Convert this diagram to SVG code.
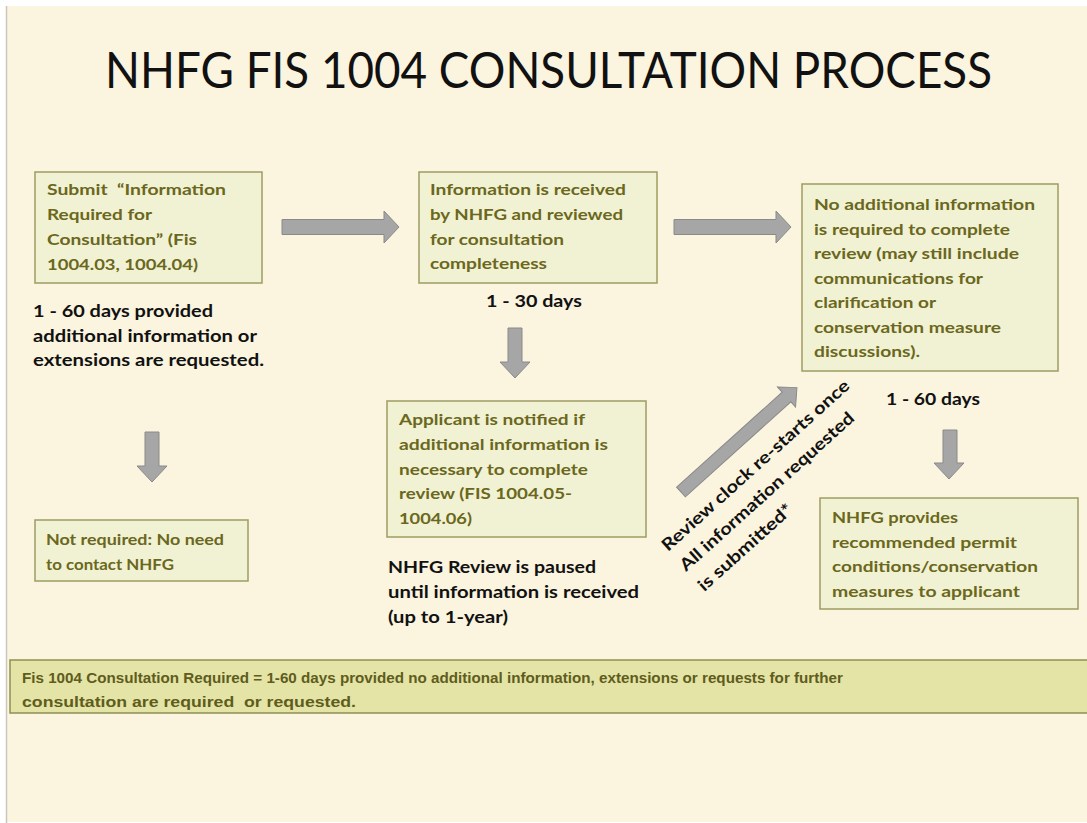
<svg xmlns="http://www.w3.org/2000/svg" width="1087" height="823" viewBox="0 0 1087 823">
  <style>
    text { white-space: pre; }
    .bg { fill: #fbf4df; }
    .box { fill: #f1f2d4; stroke: #9d9c63; stroke-width: 1.5; }
    .band { fill: #e3e4a6; stroke: #8f8e55; stroke-width: 1.5; }
    .arrow { fill: #a6a6a6; stroke: #8a8a8a; stroke-width: 1; }
    .title { font-family: Lato, "Open Sans", sans-serif; font-size: 50px; fill: #111111; }
    .bt { font-family: Lato, "Open Sans", sans-serif; font-weight: bold; font-size: 16px; fill: #6b671c; }
    .lbl { font-family: Lato, "Open Sans", sans-serif; font-weight: bold; font-size: 17px; fill: #111111; }
    .note { font-family: "Liberation Sans", Arial, sans-serif; font-weight: bold; font-size: 15px; fill: #5f5c1c; }
  </style>
  <defs>
    <!-- block arrow shape pointing right, origin at tail centre -->
    <polygon id="arrR" class="arrow" points="0,-7.5 102,-7.5 102,-16 117,0 102,16 102,7.5 0,7.5"/>
  </defs>

  <!-- page -->
  <rect x="0" y="0" width="1087" height="823" fill="#ffffff"/>
  <rect class="bg" x="7" y="6" width="1080" height="816"/>
  <line x1="6.5" y1="6" x2="6.5" y2="823" stroke="#c9c7bd" stroke-width="1.5"/>

  <text class="title" x="105" y="88" textLength="887" lengthAdjust="spacingAndGlyphs">NHFG FIS 1004 CONSULTATION PROCESS</text>

  <!-- connectors -->
  <g id="connectors">
    <use href="#arrR" x="282" y="227"/>
    <use href="#arrR" x="674" y="227"/>
    <polygon class="arrow" points="508,328 522,328 522,362 530,362 515,378 500,362 508,362"/>
    <polygon class="arrow" points="145,432 159,432 159,466 167,466 152,482 137,466 145,466"/>
    <polygon class="arrow" points="943,430 957,430 957,463 964,463 949,479 934,463 943,463"/>
    <polygon class="arrow" transform="translate(681,492) rotate(-42)" points="0,-6.5 142,-6.5 142,-13.5 156,0 142,13.5 142,6.5 0,6.5"/>
    <g transform="translate(668,552) rotate(-42)">
      <text class="lbl" x="0" y="0" textLength="246" lengthAdjust="spacingAndGlyphs">Review clock re-starts once</text>
      <text class="lbl" x="0" y="27" textLength="228" lengthAdjust="spacingAndGlyphs">All information requested</text>
      <text class="lbl" x="0" y="54" textLength="121" lengthAdjust="spacingAndGlyphs">is submitted*</text>
    </g>
  </g>

  <g id="submit">
    <rect class="box" x="35" y="172" width="227" height="111"/>
    <text class="bt" x="47" y="195" textLength="179" lengthAdjust="spacingAndGlyphs">Submit  “Information</text>
    <text class="bt" x="47" y="220" textLength="105" lengthAdjust="spacingAndGlyphs">Required for</text>
    <text class="bt" x="47" y="245" textLength="150" lengthAdjust="spacingAndGlyphs">Consultation” (Fis</text>
    <text class="bt" x="47" y="270" textLength="151" lengthAdjust="spacingAndGlyphs">1004.03, 1004.04)</text>
  </g>
  <g id="submit-time">
    <text class="lbl" x="33" y="317" textLength="180" lengthAdjust="spacingAndGlyphs">1 - 60 days provided</text>
    <text class="lbl" x="33" y="342" textLength="224" lengthAdjust="spacingAndGlyphs">additional information or</text>
    <text class="lbl" x="33" y="366" textLength="231" lengthAdjust="spacingAndGlyphs">extensions are requested.</text>
  </g>

  <g id="not-required">
    <rect class="box" x="35" y="520" width="213" height="61"/>
    <text class="bt" x="46" y="545" textLength="178" lengthAdjust="spacingAndGlyphs">Not required: No need</text>
    <text class="bt" x="46" y="570" textLength="128" lengthAdjust="spacingAndGlyphs">to contact NHFG</text>
  </g>

  <g id="received">
    <rect class="box" x="419" y="172" width="238" height="111"/>
    <text class="bt" x="430" y="195" textLength="196" lengthAdjust="spacingAndGlyphs">Information is received</text>
    <text class="bt" x="430" y="220" textLength="193" lengthAdjust="spacingAndGlyphs">by NHFG and reviewed</text>
    <text class="bt" x="430" y="245" textLength="134" lengthAdjust="spacingAndGlyphs">for consultation</text>
    <text class="bt" x="430" y="269" textLength="117" lengthAdjust="spacingAndGlyphs">completeness</text>
    <text class="lbl" x="486" y="307" textLength="96" lengthAdjust="spacingAndGlyphs">1 - 30 days</text>
  </g>

  <g id="notified">
    <rect class="box" x="387" y="401" width="259" height="136"/>
    <text class="bt" x="399" y="425" textLength="186" lengthAdjust="spacingAndGlyphs">Applicant is notified if</text>
    <text class="bt" x="399" y="450" textLength="209" lengthAdjust="spacingAndGlyphs">additional information is</text>
    <text class="bt" x="399" y="475" textLength="189" lengthAdjust="spacingAndGlyphs">necessary to complete</text>
    <text class="bt" x="399" y="499" textLength="173" lengthAdjust="spacingAndGlyphs">review (FIS 1004.05-</text>
    <text class="bt" x="399" y="524" textLength="73" lengthAdjust="spacingAndGlyphs">1004.06)</text>
    <text class="lbl" x="388" y="573" textLength="208" lengthAdjust="spacingAndGlyphs">NHFG Review is paused</text>
    <text class="lbl" x="388" y="598" textLength="251" lengthAdjust="spacingAndGlyphs">until information is received</text>
    <text class="lbl" x="388" y="623" textLength="120" lengthAdjust="spacingAndGlyphs">(up to 1-year)</text>
  </g>

  <g id="no-additional">
    <rect class="box" x="802" y="184" width="256" height="187"/>
    <text class="bt" x="814" y="210" textLength="221" lengthAdjust="spacingAndGlyphs">No additional information</text>
    <text class="bt" x="814" y="235" textLength="196" lengthAdjust="spacingAndGlyphs">is required to complete</text>
    <text class="bt" x="814" y="259" textLength="205" lengthAdjust="spacingAndGlyphs">review (may still include</text>
    <text class="bt" x="814" y="284" textLength="169" lengthAdjust="spacingAndGlyphs">communications for</text>
    <text class="bt" x="814" y="308" textLength="122" lengthAdjust="spacingAndGlyphs">clarification or</text>
    <text class="bt" x="814" y="333" textLength="187" lengthAdjust="spacingAndGlyphs">conservation measure</text>
    <text class="bt" x="814" y="357" textLength="106" lengthAdjust="spacingAndGlyphs">discussions).</text>
    <text class="lbl" x="886" y="405" textLength="94" lengthAdjust="spacingAndGlyphs">1 - 60 days</text>
  </g>

  <g id="provides">
    <rect class="box" x="820" y="498" width="258" height="111"/>
    <text class="bt" x="832" y="523" textLength="126" lengthAdjust="spacingAndGlyphs">NHFG provides</text>
    <text class="bt" x="832" y="548" textLength="185" lengthAdjust="spacingAndGlyphs">recommended permit</text>
    <text class="bt" x="832" y="572" textLength="206" lengthAdjust="spacingAndGlyphs">conditions/conservation</text>
    <text class="bt" x="832" y="597" textLength="188" lengthAdjust="spacingAndGlyphs">measures to applicant</text>
  </g>

  <g id="summary">
    <rect class="band" x="10" y="660" width="1085" height="53"/>
    <text class="note" x="22" y="683" textLength="821" lengthAdjust="spacingAndGlyphs">Fis 1004 Consultation Required = 1-60 days provided no additional information, extensions or requests for further</text>
    <text class="note" x="22" y="707" textLength="334" lengthAdjust="spacingAndGlyphs">consultation are required  or requested.</text>
  </g>
</svg>
